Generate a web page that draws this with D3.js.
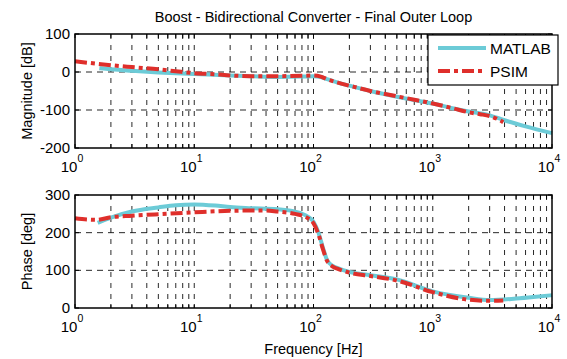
<!DOCTYPE html>
<html>
<head>
<meta charset="utf-8">
<script src="https://cdn.jsdelivr.net/npm/d3@7"></script>
<style>
  body { margin: 0; background: #fff; }
  text { font-family: "Liberation Sans", Arial, sans-serif; fill: #000; }
</style>
</head>
<body>
<script>
// Bode plot data

var matlabMagFreq = [1.6, 2, 3, 5, 7, 10, 20, 30, 50, 80, 100, 115, 130, 160, 200, 300, 500, 700, 1000, 1500, 2000, 3000, 4000, 6000, 10000];
var matlabMag = [10, 7, 3, -1, -3, -5, -9, -11, -13, -12, -11, -13, -19, -28, -36, -50, -65, -74, -83, -96, -104, -114, -127, -143, -161];

var psimMagFreq = [1, 1.5, 2, 3, 5, 7, 10, 15, 20, 30, 50, 80, 100, 115, 130, 160, 200, 300, 500, 700, 1000, 1500, 2000, 2500, 3000, 3500, 3900];
var psimMag = [28, 22, 18, 13, 7, 2, -3, -6, -9, -11, -11, -10, -9, -12, -19, -28, -36, -50, -64, -73, -83, -96, -106, -111, -116, -124, -132];

var matlabPhaseFreq = [1.55, 2, 3, 5, 7, 10, 15, 20, 30, 50, 70, 90, 100, 110, 120, 130, 145, 160, 200, 300, 500, 1000, 2000, 3000, 5000, 7000, 10000];
var matlabPhase = [226, 240, 256, 267, 273, 275, 272, 268, 265, 262, 256, 242, 229, 200, 160, 127, 112, 106, 96, 87, 76, 44, 27, 21, 25, 29, 34];

var psimPhaseFreq = [1, 1.5, 2, 3, 5, 10, 20, 40, 50, 70, 90, 100, 110, 120, 130, 145, 160, 200, 300, 500, 1000, 2000, 3000, 3900];
var psimPhase = [238, 234, 241, 245, 249, 254, 258, 259, 256, 250, 238, 225, 196, 156, 125, 110, 104, 94, 85, 73, 42, 22, 19, 20];

var decades = [1, 10, 100, 1000, 10000];
var magTicks = [-200, -100, 0, 100];
var phaseTicks = [0, 100, 200, 300];

var cyan = "#6ccbd7";
var red = "#df2f2b";

// Variables
var width = 567;
var height = 359;
var left = 75, right = 552;

var svg = d3.select("body").append("svg")
    .attr("width", width)
    .attr("height", height);

svg.append("rect").attr("width", width).attr("height", height).attr("fill", "#fff");

var x = d3.scaleLog().domain([1, 10000]).range([left, right]);

// all minor + major positions for grid and ticks
var minor = [];
decades.slice(0, 4).forEach(function (d) {
    for (var k = 2; k <= 9; k++) minor.push(d * k);
});

function drawPanel(top, bottom, yDomain, yTicks, yLabel, series) {
    var y = d3.scaleLinear().domain(yDomain).range([bottom, top]);
    var g = svg.append("g");

    // grid
    g.selectAll(".vgrid")
        .data(minor.concat(decades.slice(1, 4)))
        .enter().append("line")
        .attr("x1", function (d) { return x(d); })
        .attr("x2", function (d) { return x(d); })
        .attr("y1", top).attr("y2", bottom)
        .attr("stroke", "#111")
        .attr("stroke-width", 0.9)
        .attr("stroke-dasharray", "5,6");

    g.selectAll(".hgrid")
        .data(yTicks.slice(1, yTicks.length - 1))
        .enter().append("line")
        .attr("x1", left).attr("x2", right)
        .attr("y1", function (d) { return y(d); })
        .attr("y2", function (d) { return y(d); })
        .attr("stroke", "#111")
        .attr("stroke-width", 0.9)
        .attr("stroke-dasharray", "6,5");

    // inner ticks top & bottom
    var allX = minor.concat(decades);
    [bottom, top].forEach(function (yy, i) {
        g.selectAll(".xt" + i)
            .data(allX)
            .enter().append("line")
            .attr("x1", function (d) { return x(d); })
            .attr("x2", function (d) { return x(d); })
            .attr("y1", yy)
            .attr("y2", i == 0 ? yy - 4 : yy + 4)
            .attr("stroke", "#000");
    });
    [left, right].forEach(function (xx, i) {
        g.selectAll(".yt" + i)
            .data(yTicks)
            .enter().append("line")
            .attr("x1", xx)
            .attr("x2", i == 0 ? xx + 4 : xx - 4)
            .attr("y1", function (d) { return y(d); })
            .attr("y2", function (d) { return y(d); })
            .attr("stroke", "#000");
    });

    // curves
    series.forEach(function (s) {
        var line = d3.line()
            .x(function (d) { return x(d[0]); })
            .y(function (d) { return y(d[1]); })
            .curve(d3.curveMonotoneX);
        g.append("path")
            .datum(d3.zip(s.freq, s.vals))
            .attr("d", line)
            .attr("fill", "none")
            .attr("stroke", s.color)
            .attr("stroke-width", 4)
            .attr("stroke-dasharray", s.dash);
    });

    // frame
    g.append("rect")
        .attr("x", left).attr("y", top)
        .attr("width", right - left).attr("height", bottom - top)
        .attr("fill", "none")
        .attr("stroke", "#000")
        .attr("stroke-width", 1.5);

    // y tick labels
    g.selectAll(".ylab")
        .data(yTicks)
        .enter().append("text")
        .attr("x", left - 5)
        .attr("y", function (d) { return y(d) + 5; })
        .attr("text-anchor", "end")
        .style("font-size", "15px")
        .text(function (d) { return d; });

    // x tick labels 10^n
    var xl = g.selectAll(".xlab")
        .data(decades)
        .enter().append("text")
        .attr("x", function (d) { return x(d) - 3; })
        .attr("y", bottom + 24)
        .attr("text-anchor", "middle")
        .style("font-size", "15px");
    xl.append("tspan").text("10");
    xl.append("tspan")
        .attr("dy", -10)
        .style("font-size", "10.5px")
        .text(function (d, i) { return i; });

    // y axis label
    g.append("text")
        .attr("transform", "translate(32," + (top + bottom) / 2 + ") rotate(-90)")
        .attr("text-anchor", "middle")
        .style("font-size", "14.5px")
        .text(yLabel);

    return y;
}

drawPanel(34, 148, [-200, 100], magTicks, "Magnitude [dB]", [
    { freq: matlabMagFreq, vals: matlabMag, color: cyan, dash: null },
    { freq: psimMagFreq, vals: psimMag, color: red, dash: "12,4,4,4" }
]);

drawPanel(195, 308, [0, 300], phaseTicks, "Phase [deg]", [
    { freq: matlabPhaseFreq, vals: matlabPhase, color: cyan, dash: null },
    { freq: psimPhaseFreq, vals: psimPhase, color: red, dash: "12,4,4,4" }
]);

// title and x label
svg.append("text")
    .attr("x", (left + right) / 2)
    .attr("y", 22)
    .attr("text-anchor", "middle")
    .style("font-size", "14.5px")
    .text("Boost - Bidirectional Converter - Final Outer Loop");

svg.append("text")
    .attr("x", (left + right) / 2)
    .attr("y", 354)
    .attr("text-anchor", "middle")
    .style("font-size", "14.5px")
    .text("Frequency [Hz]");

// legend
var lg = svg.append("g");
lg.append("rect")
    .attr("x", 428).attr("y", 35)
    .attr("width", 130).attr("height", 50)
    .attr("fill", "#fff")
    .attr("stroke", "#000")
    .attr("stroke-width", 1.2);

var legendItems = [
    { name: "MATLAB", color: cyan, dash: null, y: 48 },
    { name: "PSIM", color: red, dash: "12,4,4,4", y: 71 }
];
legendItems.forEach(function (d) {
    lg.append("line")
        .attr("x1", 438).attr("x2", 486)
        .attr("y1", d.y).attr("y2", d.y)
        .attr("stroke", d.color)
        .attr("stroke-width", 4)
        .attr("stroke-dasharray", d.dash);
    lg.append("text")
        .attr("x", 490)
        .attr("y", d.y + 5.5)
        .style("font-size", "15.5px")
        .text(d.name);
});
</script>
</body>
</html>
